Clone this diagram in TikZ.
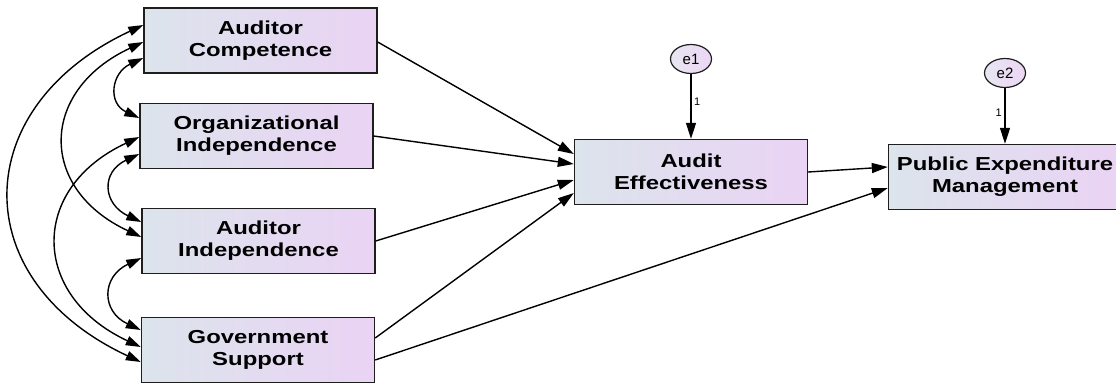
\documentclass[tikz,border=0pt]{standalone}
\usepackage{fontspec}
\setmainfont{Liberation Sans}
\newfontfamily\boxfont[FakeStretch=1.27]{Liberation Sans}
\usetikzlibrary{arrows.meta,shapes.geometric}
\definecolor{boxL}{RGB}{220,228,236}
\definecolor{boxR}{RGB}{234,211,244}
\definecolor{errL}{RGB}{232,230,242}
\definecolor{errR}{RGB}{236,214,244}
\definecolor{edgec}{RGB}{30,30,30}
\begin{document}
\begin{tikzpicture}[x=1pt,y=1pt,
  var/.style={draw=edgec, line width=1.4pt, left color=boxL, right color=boxR,
    minimum width=233pt, minimum height=65pt, inner sep=0pt, align=center,
    font=\boxfont\bfseries\fontsize{18.8}{22}\selectfont},
  err/.style={ellipse, draw=edgec, line width=1.2pt, left color=errL, right color=errR,
    minimum width=41pt, minimum height=29pt, inner sep=0pt,
    font=\fontsize{15}{17}\selectfont},
  regpath/.style={-{Triangle[length=16pt,width=10pt]}, line width=1.4pt},
  cov/.style={{Triangle[length=15pt,width=9.5pt]}-{Triangle[length=15pt,width=9.5pt]}, line width=1.4pt},
  lbl/.style={font=\fontsize{11}{13}\selectfont, inner sep=2.5pt}]
\clip (0,0) rectangle (1116,-383);
% observed variables
\node[var] (ac)  at (260.5,-40.5) {Auditor\\Competence};
\node[var] (oi)  at (256.5,-136)  {Organizational\\Independence};
\node[var] (ai)  at (258.5,-241)  {Auditor\\Independence};
\node[var] (gs)  at (258,-350)    {Government\\Support};
\node[var] (ae)  at (691,-172)    {Audit\\Effectiveness};
\node[var] (pem) at (1005,-177)   {Public Expenditure\\Management};
% error terms
\node[err] (e1) at (691,-59) {e1};
\node[err] (e2) at (1005,-73) {e2};
% regression paths
\draw[regpath] ([yshift=-1.5pt]ac.east) -- ([yshift=18pt]ae.west);
\draw[regpath] (oi.east) -- ([yshift=8pt]ae.west);
\draw[regpath] (ai.east) -- ([yshift=-8pt]ae.west);
\draw[regpath] ([yshift=12pt]gs.east) -- ([yshift=-21pt]ae.west);
\draw[regpath] ([yshift=-10pt]gs.east) -- ([yshift=-11pt]pem.west);
\draw[regpath] (ae.east) -- ([yshift=10pt]pem.west);
\draw[regpath] (e1.south) -- node[lbl, right, pos=0.42] {1} (ae.north);
\draw[regpath] (e2.south) -- node[lbl, left, pos=0.45] {1} (pem.north);
% covariances
\draw[cov] ([yshift=-17.5pt]ac.west) to[out=205,in=155,looseness=1.5] ([yshift=18pt]oi.west);
\draw[cov] ([yshift=-18pt]oi.west) to[out=205,in=155,looseness=1.6] ([yshift=19pt]ai.west);
\draw[cov] ([yshift=-17pt]ai.west) to[out=205,in=155,looseness=1.56] ([yshift=20pt]gs.west);
\draw[cov] ([yshift=-1.5pt]ac.west) to[out=205,in=155,looseness=1.5] ([yshift=4pt]ai.west);
\draw[cov] ([yshift=-1pt]oi.west) to[out=205,in=155,looseness=1.48] ([yshift=3pt]gs.west);
\draw[cov] ([yshift=15.5pt]ac.west) to[out=205,in=155,looseness=1.47] ([yshift=-12pt]gs.west);
\end{tikzpicture}
\end{document}
